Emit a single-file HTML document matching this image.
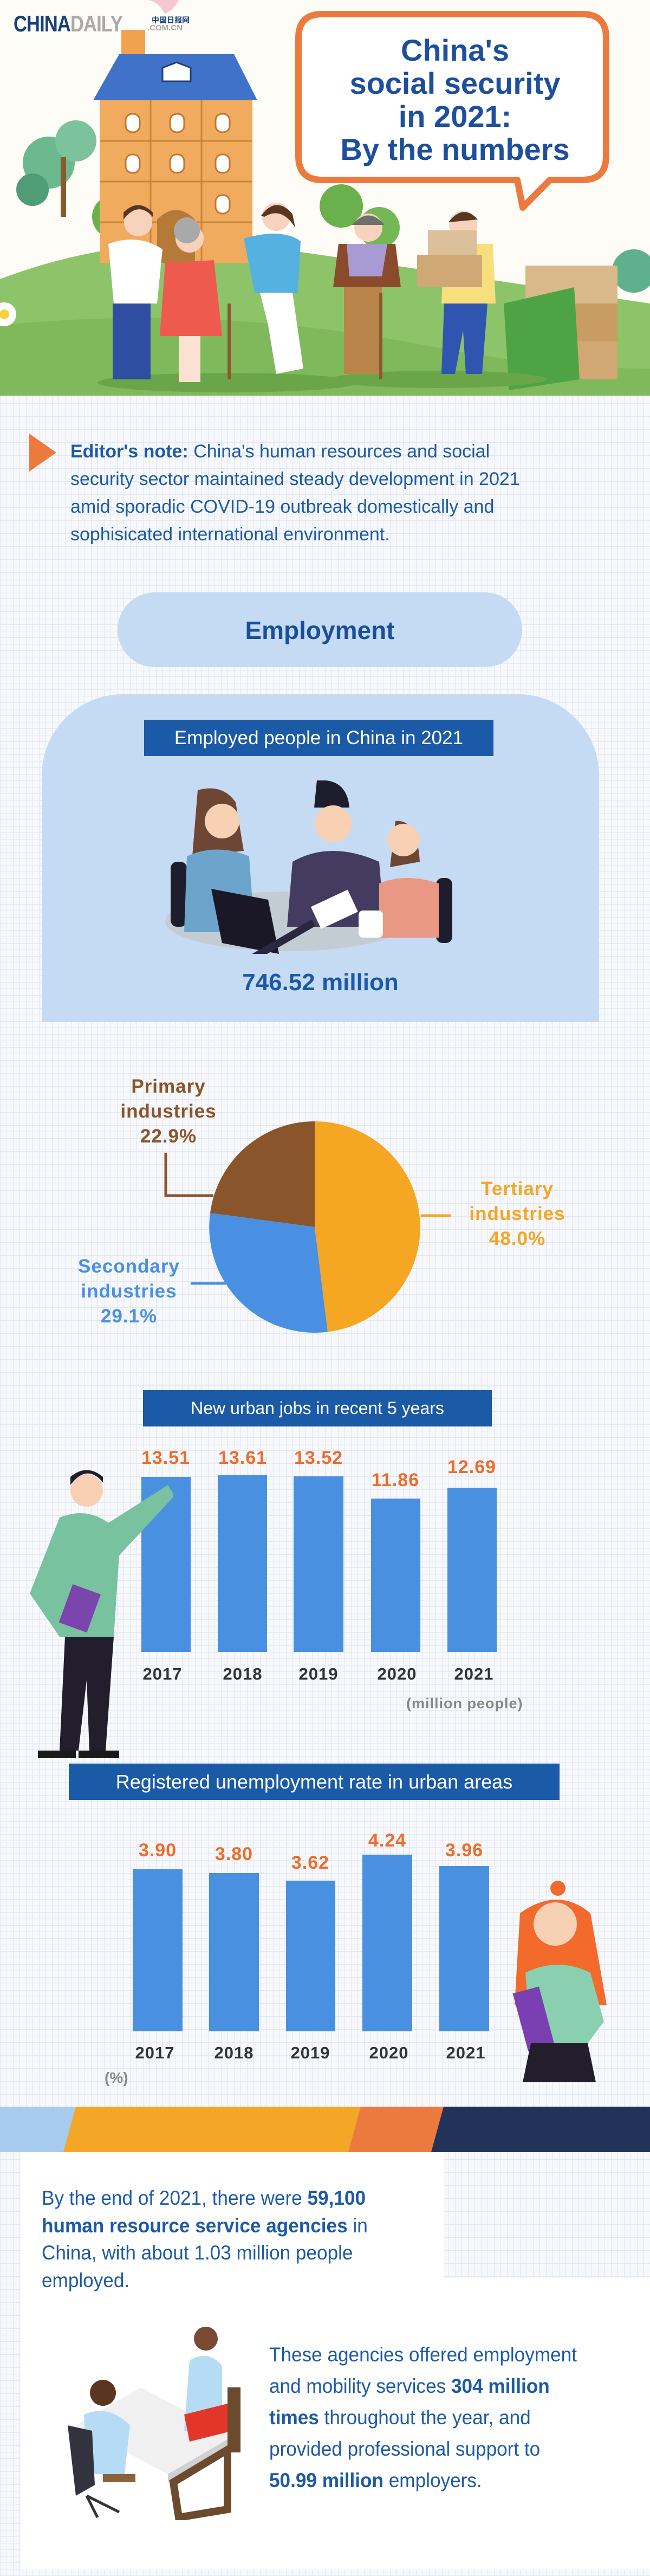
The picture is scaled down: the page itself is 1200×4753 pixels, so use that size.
<!DOCTYPE html>
<html><head><meta charset="utf-8">
<style>
*{margin:0;padding:0;box-sizing:border-box}
body{width:1200px;height:4753px;position:relative;overflow:hidden;font-family:"Liberation Sans",sans-serif;
background-color:#f6f8fc;
background-image:repeating-linear-gradient(0deg,#e3e7ef 0 1px,transparent 1px 12px),repeating-linear-gradient(90deg,#e3e7ef 0 1px,transparent 1px 12px);}
.a{position:absolute}
.t{position:absolute;white-space:nowrap}
.box{position:absolute;background:#1b5aa6;color:#fff;text-align:center;}
.lbl{position:absolute;text-align:center;font-weight:bold;line-height:46px;font-size:35px;letter-spacing:1px}
.v{position:absolute;width:140px;text-align:center;color:#ef6b2a;font-weight:bold;font-size:34px;letter-spacing:1px}
.y{position:absolute;width:140px;text-align:center;color:#333;font-weight:bold;font-size:31px;letter-spacing:1px}
.bar{position:absolute;background:#4a90e0}
</style></head><body>

<svg class="a" style="left:0;top:0" width="1200" height="730" viewBox="0 0 1200 730">
<rect width="1200" height="730" fill="#fdfcf7"/>
<path d="M0,515 Q250,420 520,460 Q800,500 1200,560 L1200,730 L0,730Z" fill="#8dc46a"/>
<path d="M0,600 Q400,560 800,640 Q1000,680 1200,680 L1200,730 L0,730Z" fill="#7fb95c"/>
<circle cx="90" cy="300" r="48" fill="#6cb88f"/><circle cx="140" cy="260" r="38" fill="#7cc29d"/><circle cx="60" cy="350" r="30" fill="#4f9c77"/>
<rect x="112" y="290" width="10" height="110" fill="#8a5a2c"/>
<circle cx="210" cy="400" r="40" fill="#6ab04c"/><circle cx="630" cy="380" r="40" fill="#6ab04c"/><circle cx="700" cy="420" r="38" fill="#74b856"/>
<circle cx="1170" cy="500" r="40" fill="#5fb08c"/>
<path d="M304,25 Q290,0 270,0 L330,0 Q320,20 304,25Z" fill="#f6c7cf"/>
<rect x="224" y="55" width="44" height="50" fill="#f0a24e"/>
<rect x="184" y="185" width="282" height="300" fill="#f0ab5e"/>
<g stroke="#c98638" stroke-width="3"><line x1="184" y1="260" x2="466" y2="260"/><line x1="184" y1="335" x2="466" y2="335"/><line x1="184" y1="410" x2="466" y2="410"/><line x1="278" y1="185" x2="278" y2="485"/><line x1="372" y1="185" x2="372" y2="485"/></g>
<path d="M220,100 L432,100 L475,185 L172,185Z" fill="#3f72c8"/>
<path d="M300,125 L326,115 L352,125 L352,150 L300,150Z" fill="#fff" stroke="#1d3f80" stroke-width="3"/>
<g fill="#fff" stroke="#c0782e" stroke-width="3">
<rect x="232" y="210" width="26" height="34" rx="12"/><rect x="314" y="210" width="26" height="34" rx="12"/><rect x="398" y="210" width="26" height="34" rx="12"/>
<rect x="232" y="285" width="26" height="34" rx="12"/><rect x="314" y="285" width="26" height="34" rx="12"/><rect x="398" y="285" width="26" height="34" rx="12"/>
<rect x="398" y="360" width="26" height="34" rx="12"/></g>
<path d="M290,485 L290,405 Q325,370 360,405 L360,485Z" fill="#b67a38"/>
<rect x="970" y="490" width="170" height="70" fill="#d9b98a"/><rect x="990" y="560" width="150" height="70" fill="#c99c63"/><rect x="1000" y="630" width="140" height="70" fill="#d1a874"/>
<path d="M930,560 L1060,530 L1070,700 L940,720Z" fill="#4ea345"/>
<ellipse cx="420" cy="706" rx="240" ry="18" fill="#6aa54a"/><ellipse cx="810" cy="700" rx="200" ry="16" fill="#6aa54a"/>
<circle cx="255" cy="410" r="26" fill="#f7d2bc"/><path d="M228,405 Q255,370 282,400 L282,392 Q255,365 228,392Z" fill="#5a3520"/>
<path d="M200,450 Q255,430 300,460 L290,560 L210,560Z" fill="#fff"/><rect x="208" y="560" width="70" height="140" fill="#2f4ea2"/>
<circle cx="350" cy="440" r="26" fill="#f7d2bc"/><circle cx="345" cy="425" r="24" fill="#a9a9a9"/>
<path d="M305,485 L395,480 L410,620 L295,620Z" fill="#ef5a4e"/><rect x="330" y="620" width="40" height="85" fill="#fbe1d2"/>
<rect x="420" y="560" width="6" height="140" fill="#8a5a2c"/>
<circle cx="510" cy="400" r="26" fill="#f7d2bc"/><path d="M482,398 Q510,360 540,395 L545,420 Q520,380 488,400Z" fill="#5a3520"/>
<path d="M450,440 Q520,420 555,445 L550,540 L470,540Z" fill="#55b1e0"/><path d="M480,540 L540,540 L560,680 L510,690 L495,600Z" fill="#fff"/>
<circle cx="680" cy="420" r="26" fill="#f7d2bc"/><path d="M650,415 Q680,380 710,415Z" fill="#6f6f6f"/>
<path d="M625,450 L730,450 L740,530 L615,530Z" fill="#8a4b2c"/><path d="M640,450 L715,450 L705,510 L645,510Z" fill="#a89bd3"/>
<rect x="635" y="530" width="70" height="160" fill="#b9854b"/><rect x="700" y="540" width="6" height="160" fill="#8a5a2c"/>
<circle cx="855" cy="415" r="26" fill="#f7d2bc"/><path d="M828,410 Q855,375 882,405Z" fill="#5a3520"/>
<path d="M820,450 L910,450 L915,560 L815,560Z" fill="#f7df7e"/>
<rect x="790" y="425" width="90" height="50" fill="#dcc09a"/><rect x="770" y="470" width="120" height="60" fill="#cfa876"/>
<path d="M820,560 L900,560 L890,690 L860,690 L855,610 L840,690 L815,690Z" fill="#2f55b0"/>
<circle cx="8" cy="580" r="22" fill="#fff"/><circle cx="8" cy="580" r="9" fill="#f5d23a"/>
</svg>

<div class="t" style="left:25px;top:20px;font-size:42px;font-weight:bold;letter-spacing:-1px;color:#173f78;transform:scaleX(0.82);transform-origin:left">CHINA<span style="color:#a9a9a9">DAILY</span></div>
<div class="t" style="left:280px;top:27px;font-size:14px;font-weight:bold;color:#173f78;font-family:'Liberation Sans','Noto Sans CJK SC',sans-serif">中国日报网</div>
<div class="t" style="left:272px;top:43px;font-size:15px;font-weight:bold;color:#a9a9a9">.COM.CN</div>

<svg class="a" style="left:535px;top:18px" width="600" height="380">
<path d="M60,8 L540,8 Q584,8 584,52 L584,270 Q584,314 540,314 L480,314 L430,365 L420,314 L60,314 Q16,314 16,270 L16,52 Q16,8 60,8Z" fill="#fff" stroke="#ec7a3f" stroke-width="12" stroke-linejoin="round"/>
</svg>
<div class="t" style="left:560px;top:62px;width:560px;text-align:center;color:#1d4f9c;font-weight:bold;font-size:56px;line-height:61px">China's<br>social security<br>in 2021:<br>By the numbers</div>

<svg class="a" style="left:54px;top:800px" width="52" height="72"><path d="M0,0 L50,35 L0,70Z" fill="#ec7a3f"/></svg>
<div class="t" style="left:130px;top:808px;font-size:34px;line-height:51px;color:#1d5aa6;width:1060px"><b>Editor's note:</b> China's human resources and social<br>security sector maintained steady development in 2021<br>amid sporadic COVID-19 outbreak domestically and<br>sophisicated international environment.</div>

<div class="a" style="left:217px;top:1093px;width:747px;height:138px;border-radius:69px;background:#c5dbf3"></div>
<div class="t" style="left:217px;top:1136px;width:747px;text-align:center;font-size:46px;font-weight:bold;color:#1b4f9a">Employment</div>

<div class="a" style="left:77px;top:1281px;width:1029px;height:605px;background:#c5dbf3;border-radius:150px 150px 0 0"></div>
<div class="box" style="left:266px;top:1328px;width:645px;height:67px;font-size:35px;line-height:67px">Employed people in China in 2021</div>
<svg class="a" style="left:300px;top:1440px" width="550" height="320">
<ellipse cx="230" cy="260" rx="225" ry="55" fill="#c3ccd3"/>
<rect x="15" y="150" width="30" height="120" rx="12" fill="#1e1d2d"/><rect x="505" y="180" width="30" height="120" rx="12" fill="#1e1d2d"/>
<path d="M65,18 Q110,5 135,40 L150,130 L55,140Z" fill="#6e4634"/><circle cx="110" cy="75" r="32" fill="#f8d0b4"/>
<path d="M45,140 Q100,115 160,140 L170,280 L40,280Z" fill="#6da4cc"/>
<path d="M285,0 Q340,-5 345,50 L280,50Z" fill="#1e1d2d"/><circle cx="315" cy="80" r="34" fill="#f8d0b4"/>
<path d="M240,150 Q310,110 400,150 L410,270 L230,270Z" fill="#443c60"/>
<path d="M430,75 Q470,70 475,150 L420,160Z" fill="#6e4634"/><circle cx="445" cy="110" r="30" fill="#f8d0b4"/>
<path d="M400,190 Q450,170 510,190 L510,290 L400,290Z" fill="#e99884"/>
<path d="M90,200 L195,220 L215,320 L110,300Z" fill="#1a1827"/>
<rect x="160" y="290" width="130" height="14" fill="#2a2840" transform="rotate(-30 220 300)"/>
<rect x="280" y="215" width="75" height="45" fill="#fff" transform="rotate(-25 318 238)"/>
<rect x="362" y="240" width="45" height="50" rx="8" fill="#fff"/>
</svg>
<div class="t" style="left:77px;top:1788px;width:1029px;text-align:center;font-size:44px;font-weight:bold;color:#1b5aa6">746.52 million</div>

<svg class="a" style="left:0;top:1960px" width="1200" height="520">
<path d="M581,304 L581,109 A195,195 0 0 1 605,497.5 Z" fill="#f5a623"/>
<path d="M581,304 L605,497.5 A195,195 0 0 1 388,278 Z" fill="#4a90e2"/>
<path d="M581,304 L388,278 A195,195 0 0 1 581,109 Z" fill="#8a552a"/>
<path d="M306,167 L306,246 L394,246" fill="none" stroke="#8a552a" stroke-width="5"/>
<line x1="777" y1="283" x2="832" y2="283" stroke="#f5a623" stroke-width="5"/>
<line x1="352" y1="408" x2="417" y2="408" stroke="#4a90e2" stroke-width="5"/>
</svg>
<div class="lbl" style="left:161px;top:1982px;width:300px;color:#8a552a">Primary<br>industries<br>22.9%</div>
<div class="lbl" style="left:805px;top:2171px;width:300px;color:#f5a623">Tertiary<br>industries<br>48.0%</div>
<div class="lbl" style="left:88px;top:2314px;width:300px;color:#4a90e2">Secondary<br>industries<br>29.1%</div>

<div class="box" style="left:264px;top:2565px;width:644px;height:67px;font-size:32px;line-height:67px">New urban jobs in recent 5 years</div>
<div class="bar" style="left:261px;top:2725px;width:91px;height:323px"></div>
<div class="bar" style="left:402px;top:2722px;width:91px;height:326px"></div>
<div class="bar" style="left:542px;top:2724px;width:92px;height:324px"></div>
<div class="bar" style="left:685px;top:2765px;width:91px;height:283px"></div>
<div class="bar" style="left:826px;top:2745px;width:91px;height:303px"></div>
<div class="v" style="left:236px;top:2671px">13.51</div>
<div class="v" style="left:378px;top:2671px">13.61</div>
<div class="v" style="left:518px;top:2671px">13.52</div>
<div class="v" style="left:660px;top:2712px">11.86</div>
<div class="v" style="left:801px;top:2688px">12.69</div>
<div class="y" style="left:230px;top:3071px">2017</div>
<div class="y" style="left:378px;top:3071px">2018</div>
<div class="y" style="left:518px;top:3071px">2019</div>
<div class="y" style="left:663px;top:3071px">2020</div>
<div class="y" style="left:805px;top:3071px">2021</div>
<div class="t" style="left:750px;top:3128px;font-size:27px;font-weight:bold;color:#888;letter-spacing:1px">(million people)</div>
<svg class="a" style="left:50px;top:2700px" width="270" height="550">
<circle cx="110" cy="50" r="30" fill="#f8d0b4"/><path d="M80,40 Q110,0 140,35 L140,25 Q110,0 80,25Z" fill="#1e1d2d"/>
<path d="M60,100 Q110,80 150,110 L260,40 L272,60 L170,170 L160,320 L60,320 L5,240Z" fill="#79c2a0"/>
<rect x="70" y="230" width="55" height="75" fill="#7b45ad" transform="rotate(20 97 267)"/>
<path d="M70,320 L160,320 L145,530 L115,530 L110,400 L95,530 L60,530Z" fill="#231e2c"/>
<rect x="20" y="530" width="70" height="14" fill="#1a1a1a"/><rect x="95" y="530" width="75" height="14" fill="#1a1a1a"/>
</svg>

<div class="box" style="left:127px;top:3254px;width:906px;height:67px;font-size:36px;line-height:67px">Registered unemployment rate in urban areas</div>
<div class="bar" style="left:245px;top:3449px;width:92px;height:299px"></div>
<div class="bar" style="left:386px;top:3456px;width:92px;height:292px"></div>
<div class="bar" style="left:528px;top:3470px;width:91px;height:278px"></div>
<div class="bar" style="left:669px;top:3422px;width:92px;height:326px"></div>
<div class="bar" style="left:811px;top:3443px;width:92px;height:305px"></div>
<div class="v" style="left:221px;top:3395px">3.90</div>
<div class="v" style="left:362px;top:3402px">3.80</div>
<div class="v" style="left:503px;top:3418px">3.62</div>
<div class="v" style="left:645px;top:3377px">4.24</div>
<div class="v" style="left:787px;top:3395px">3.96</div>
<div class="y" style="left:216px;top:3770px">2017</div>
<div class="y" style="left:362px;top:3770px">2018</div>
<div class="y" style="left:503px;top:3770px">2019</div>
<div class="y" style="left:648px;top:3770px">2020</div>
<div class="y" style="left:790px;top:3770px">2021</div>
<div class="t" style="left:193px;top:3818px;font-size:28px;font-weight:bold;color:#888">(%)</div>
<svg class="a" style="left:920px;top:3470px" width="230" height="372">
<circle cx="110" cy="14" r="14" fill="#f26a2c"/>
<path d="M40,60 Q110,10 170,60 L200,230 L30,230Z" fill="#f26a2c"/>
<circle cx="105" cy="80" r="40" fill="#f8d0b4"/>
<path d="M50,170 Q110,140 170,170 L195,260 L165,300 L60,300Z" fill="#8ad0b0"/>
<rect x="40" y="200" width="50" height="110" fill="#7a3fb0" transform="rotate(-15 65 255)"/>
<path d="M60,300 L165,300 L180,372 L45,372Z" fill="#231e2c"/>
</svg>

<svg class="a" style="left:0;top:3887px" width="1200" height="84">
<rect width="1200" height="84" fill="#22335a"/>
<path d="M0,0 L819,0 L796,84 L0,84Z" fill="#ec7a3f"/>
<path d="M0,0 L666,0 L643,84 L0,84Z" fill="#f4a626"/>
<path d="M0,0 L140,0 L117,84 L0,84Z" fill="#a8cbf0"/>
</svg>

<div class="a" style="left:38px;top:3971px;width:781px;height:232px;background:#fff"></div>
<div class="a" style="left:38px;top:4203px;width:1162px;height:538px;background:#fff"></div>
<div class="t" style="left:77px;top:4031px;font-size:37px;line-height:50.5px;color:#1d5aa6;transform:scaleX(0.95);transform-origin:left">By the end of 2021, there were <b>59,100</b><br><b>human resource service agencies</b> in<br>China, with about 1.03 million people<br>employed.</div>
<div class="t" style="left:497px;top:4316px;font-size:37px;line-height:58px;color:#1d5aa6;transform:scaleX(0.95);transform-origin:left">These agencies offered employment<br>and mobility services <b>304 million</b><br><b>times</b> throughout the year, and<br>provided professional support to<br><b>50.99 million</b> employers.</div>
<svg class="a" style="left:100px;top:4285px" width="365" height="365">
<path d="M40,190 L160,120 L330,210 L210,280Z" fill="#f0f0f0"/><path d="M210,280 L330,210 L330,225 L210,295Z" fill="#d0d0d0"/>
<path d="M220,295 L320,235 L320,345 L230,360Z" fill="none" stroke="#6b4a2e" stroke-width="14"/>
<circle cx="280" cy="30" r="22" fill="#7a4a35"/><path d="M250,70 Q285,50 310,80 L310,200 L240,200Z" fill="#b5dcf4"/>
<path d="M240,170 L320,150 L330,200 L250,220Z" fill="#e3362a"/>
<rect x="320" y="120" width="24" height="120" fill="#6b4a2e"/>
<circle cx="90" cy="130" r="24" fill="#5a3520"/><path d="M55,170 Q100,150 140,190 L130,280 L60,280Z" fill="#b5dcf4"/>
<path d="M25,190 L70,200 L75,300 L40,320Z" fill="#333340"/>
<rect x="90" y="280" width="60" height="15" fill="#8d6239"/>
<line x1="60" y1="320" x2="80" y2="360" stroke="#333" stroke-width="5"/><line x1="60" y1="320" x2="120" y2="350" stroke="#333" stroke-width="5"/>
</svg>
</body></html>
